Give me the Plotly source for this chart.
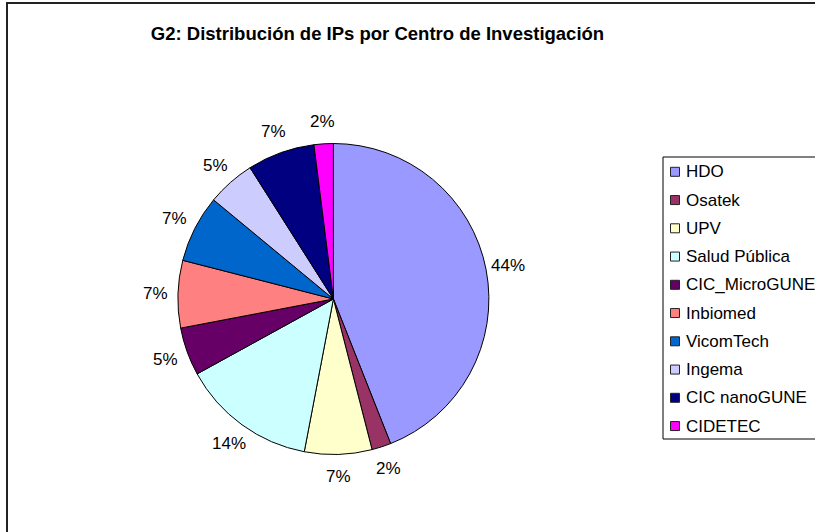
import math
import plotly.graph_objects as go

W, H = 815, 532

centros = ["HDO", "Osatek", "UPV", "Salud Pública", "CIC_MicroGUNE",
           "Inbiomed", "VicomTech", "Ingema", "CIC nanoGUNE", "CIDETEC"]
porcentajes = [44, 2, 7, 14, 5, 7, 7, 5, 7, 2]
colores = ["#9999FF", "#993366", "#FFFFCC", "#CCFFFF", "#660066",
           "#FF8080", "#0066CC", "#CCCCFF", "#000080", "#FF00FF"]
titulo = "G2: Distribución de IPs por Centro de Investigación"

FONT = "Liberation Sans, Arial, sans-serif"

# pie geometry (pixels)
cx, cy, r = 333.4, 299.0, 155.5
label_dist = 178.0

fig = go.Figure()
fig.add_trace(go.Pie(
    labels=centros,
    values=porcentajes,
    marker=dict(colors=colores, line=dict(color="black", width=1)),
    sort=False,
    direction="clockwise",
    rotation=0,
    textinfo="none",
    showlegend=False,
    hoverinfo="label+percent",
    domain=dict(x=[(cx - r) / W, (cx + r) / W],
                y=[1 - (cy + r) / H, 1 - (cy - r) / H]),
))

shapes = []
annotations = []

# percentage labels outside each slice, placed at the slice mid-angle
total = sum(porcentajes)
acum = 0
for v in porcentajes:
    mid = (acum + v / 2) / total * 2 * math.pi
    acum += v
    px = cx + label_dist * math.sin(mid)
    py = cy - label_dist * math.cos(mid)
    annotations.append(dict(xref="paper", yref="paper", x=px / W, y=1 - py / H,
                            xanchor="center", yanchor="middle", showarrow=False,
                            text=f"{round(100 * v / total)}%",
                            font=dict(family=FONT, size=17, color="black")))

# outer chart border
shapes.append(dict(type="rect", xref="paper", yref="paper",
                   x0=7 / W, x1=840 / W, y0=1 - 560 / H, y1=1 - 3 / H,
                   line=dict(color="#222222", width=2), fillcolor="rgba(0,0,0,0)"))

# legend box
lx0, ly0, ly1 = 663, 157, 439
shapes.append(dict(type="rect", xref="paper", yref="paper",
                   x0=lx0 / W, x1=840 / W, y0=1 - ly1 / H, y1=1 - ly0 / H,
                   line=dict(color="black", width=1), fillcolor="white"))

step = 28.25
y_first = 171.8
sym = 9
for i, (name, col) in enumerate(zip(centros, colores)):
    yc = y_first + i * step
    shapes.append(dict(type="rect", xref="paper", yref="paper",
                       x0=(675 - sym / 2) / W, x1=(675 + sym / 2) / W,
                       y0=1 - (yc + sym / 2) / H, y1=1 - (yc - sym / 2) / H,
                       line=dict(color="#222222", width=1), fillcolor=col))
    annotations.append(dict(xref="paper", yref="paper", x=684 / W, y=1 - yc / H,
                            xanchor="left", yanchor="middle", showarrow=False,
                            text=name, font=dict(family=FONT, size=17, color="black")))

fig.update_layout(
    width=W, height=H,
    margin=dict(l=0, r=0, t=0, b=0, pad=0, autoexpand=False),
    paper_bgcolor="white",
    plot_bgcolor="white",
    title=dict(text="<b>" + titulo + "</b>", x=377.5 / W, xanchor="center",
               y=1 - 34 / H, yanchor="middle",
               font=dict(family=FONT, size=18.5, color="black")),
    shapes=shapes,
    annotations=annotations,
)

fig.write_html("out.html",
               config={"displayModeBar": False},
               post_script="document.body.style.margin='0';document.body.style.overflow='hidden';")
